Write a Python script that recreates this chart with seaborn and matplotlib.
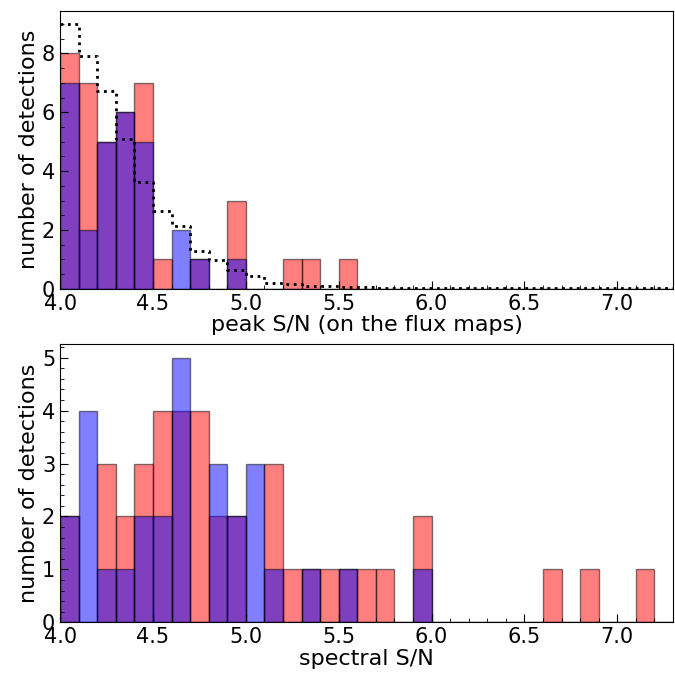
import numpy as np
import pandas as pd
import seaborn as sns
import matplotlib.pyplot as plt
from matplotlib.ticker import MultipleLocator

# bins of width 0.1 starting at 4.0
bin_left = [round(4.0 + 0.1 * i, 1) for i in range(34)]

# top panel: peak S/N
peak_red = [8, 7, 5, 6, 7, 1, 0, 1, 0, 3, 0, 0, 1, 1, 0, 1]
peak_blue = [7, 2, 5, 6, 5, 0, 2, 1, 0, 1]
peak_model = [9.0, 7.9, 6.72, 5.08, 3.63, 2.64, 2.14, 1.28, 0.98, 0.63, 0.43,
              0.21, 0.15, 0.11, 0.09, 0.05, 0.05, 0.04, 0.04, 0.03, 0.03, 0.03,
              0.03, 0.02, 0.02, 0.02, 0.02, 0.02, 0.02, 0.01, 0.01, 0.01, 0.01,
              0.01]

# bottom panel: spectral S/N
spec_red = [2, 0, 3, 2, 3, 4, 4, 4, 2, 2, 0, 3, 1, 1, 1, 1, 1, 1, 0, 2,
            0, 0, 0, 0, 0, 0, 1, 0, 1, 0, 0, 1]
spec_blue = [2, 4, 1, 1, 2, 2, 5, 0, 3, 2, 3, 1, 0, 1, 0, 1, 0, 0, 0, 1]

edges = [round(4.0 + 0.1 * i, 1) for i in range(34)]

plt.rcParams['font.size'] = 15
plt.rcParams['axes.labelsize'] = 16


def draw_hist(ax, counts, color):
    n = len(counts)
    df = pd.DataFrame({'x': np.array(bin_left[:n]) + 0.05, 'w': counts})
    sns.histplot(data=df, x='x', weights='w', bins=edges, ax=ax, color=color,
                 alpha=0.5, edgecolor=(0, 0, 0, 0.5), linewidth=1.0,
                 element='bars', stat='count')


def style_axis(ax, ymax, yminor, xlabel):
    ax.set_xlim(4.0, 7.3)
    ax.set_ylim(0, ymax)
    ax.xaxis.set_major_locator(MultipleLocator(0.5))
    ax.xaxis.set_minor_locator(MultipleLocator(0.1))
    ax.yaxis.set_minor_locator(MultipleLocator(yminor))
    ax.tick_params(which='both', direction='in')
    ax.tick_params(which='major', length=6)
    ax.tick_params(which='minor', length=3)
    ax.set_xlabel(xlabel, labelpad=1)
    ax.set_ylabel('number of detections', labelpad=2)


fig, (ax1, ax2) = plt.subplots(2, 1, figsize=(6.75, 6.75), dpi=100)
fig.subplots_adjust(left=0.089, right=0.997, top=0.984, bottom=0.078, hspace=0.2)

draw_hist(ax1, peak_red, 'red')
draw_hist(ax1, peak_blue, 'blue')
model_x = [3.9] + bin_left
model_y = [9.15] + peak_model
sns.lineplot(x=model_x, y=model_y, ax=ax1, color='black', linestyle=':',
             linewidth=2, drawstyle='steps-post')
style_axis(ax1, 9.45, 0.5, 'peak S/N (on the flux maps)')
ax1.yaxis.set_major_locator(MultipleLocator(2))

draw_hist(ax2, spec_red, 'red')
draw_hist(ax2, spec_blue, 'blue')
style_axis(ax2, 5.25, 0.2, 'spectral S/N')
ax2.yaxis.set_major_locator(MultipleLocator(1))

fig.savefig('out.png', dpi=100)
